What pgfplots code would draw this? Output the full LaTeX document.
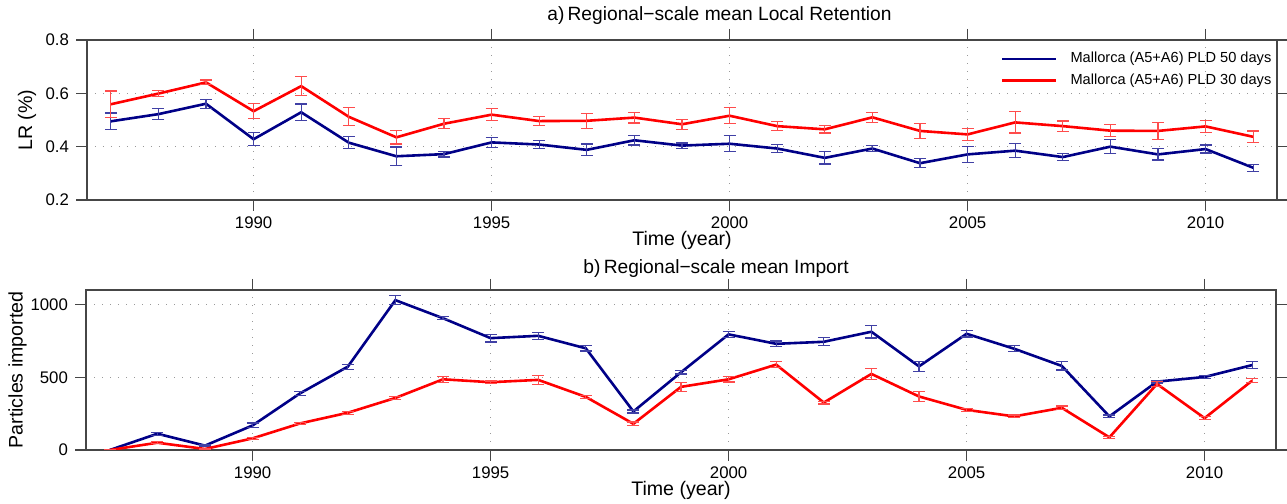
\documentclass[border=0pt]{standalone}
\usepackage{pgfplots}
\pgfplotsset{compat=1.18}
\usepackage{pgfplotstable}
\usepackage{fontspec}
\setmainfont{Liberation Sans}

\definecolor{navy}{RGB}{0,0,135}
\definecolor{pure red}{RGB}{255,0,0}
\definecolor{frame}{RGB}{70,70,70}

% Local retention (fraction), mean and error
\pgfplotstableread{
year  m      e
1987 0.495 0.031
1988 0.522 0.020
1989 0.561 0.017
1990 0.428 0.024
1991 0.529 0.031
1992 0.415 0.022
1993 0.364 0.035
1994 0.372 0.011
1995 0.416 0.018
1996 0.408 0.014
1997 0.388 0.022
1998 0.424 0.018
1999 0.404 0.010
2000 0.411 0.030
2001 0.393 0.016
2002 0.358 0.023
2003 0.393 0.010
2004 0.338 0.017
2005 0.371 0.031
2006 0.385 0.027
2007 0.361 0.013
2008 0.400 0.027
2009 0.371 0.021
2010 0.391 0.015
2011 0.321 0.013
}\lrfifty
\pgfplotstableread{
year  m      e
1987 0.559 0.050
1988 0.599 0.012
1989 0.641 0.009
1990 0.533 0.028
1991 0.627 0.035
1992 0.512 0.034
1993 0.435 0.025
1994 0.486 0.019
1995 0.520 0.022
1996 0.496 0.018
1997 0.497 0.028
1998 0.509 0.020
1999 0.484 0.019
2000 0.516 0.030
2001 0.477 0.017
2002 0.465 0.014
2003 0.510 0.018
2004 0.459 0.027
2005 0.446 0.022
2006 0.491 0.040
2007 0.477 0.019
2008 0.460 0.022
2009 0.459 0.031
2010 0.476 0.022
2011 0.437 0.022
}\lrthirty

% Imported particles, mean and error
\pgfplotstableread{
year  m    e
1987    0   2
1988  112  11
1989   30   5
1990  169  17
1991  390  13
1992  573  17
1993 1030  30
1994  906  10
1995  769  27
1996  785  24
1997  699  19
1998  265  10
1999  534  12
2000  795  21
2001  730  20
2002  744  27
2003  813  43
2004  575  33
2005  799  22
2006  696  21
2007  578  28
2008  231  10
2009  470  10
2010  502  10
2011  584  24
}\imfifty
\pgfplotstableread{
year  m    e
1987    0   2
1988   50   6
1989    7   5
1990   80   6
1991  183   5
1992  256  10
1993  358  10
1994  486  22
1995  466   8
1996  482  29
1997  365  12
1998  180  13
1999  434  30
2000  486  18
2001  587  22
2002  326  10
2003  523  37
2004  368  32
2005  276  10
2006  231  10
2007  290  12
2008   87   8
2009  454  17
2010  219  12
2011  477  14
}\imthirty

\pgfplotsset{
  every axis title shift=0pt,
  panel/.style={
    scale only axis, width=595pt, height=80pt,
    xmin=1986.5, xmax=2011.5,
    xtick={1990,1995,2000,2005,2010},
    tick align=outside, major tick length=5.5pt,
    axis line style={frame, line width=0.6pt},
    every tick/.style={frame, line width=0.6pt},
    xmajorgrids, ymajorgrids,
    major grid style={gray!80, line width=0.5pt, dash pattern=on 0.5pt off 3.5pt},
    tick label style={font=\fontsize{8.4}{10}\selectfont},
    xticklabel style={yshift=0.5pt},
    label style={font=\fontsize{9.8}{11}\selectfont},
    title style={font=\fontsize{9.6}{11}\selectfont},
    /pgf/number format/assume math mode=true,
    /pgf/number format/1000 sep={},
    xlabel={Time (year)},
    xlabel style={at={(axis description cs:0.5,-0.25)}, anchor=center, inner sep=0pt},
    every axis plot/.append style={line width=1.3pt, mark=none},
    error bars/y dir=both, error bars/y explicit,
    error bars/error mark options={mark size=3pt, line width=0.6pt, rotate=90},
  },
}

\begin{document}
\begin{tikzpicture}
\path[use as bounding box] (0,0) rectangle (643.5pt,252pt);

\begin{axis}[panel,
  at={(43.5pt,152pt)}, anchor=south west,
  ymin=0.2, ymax=0.8, ytick={0.2,0.4,0.6,0.8},
  yticklabel style={/pgf/number format/.cd, fixed, fixed zerofill, precision=1},
  ylabel={LR (\%)},
  ylabel style={at={(axis description cs:-0.0504,0.5)}, anchor=center},
  title={a)\,Regional−scale mean Local Retention},
  title style={at={(axis description cs:0.5315,1.15)}, anchor=center},
  legend style={at={(1.004,0.975)}, anchor=north east, draw=none, fill=none,
    font=\fontsize{7.3}{8}\selectfont, row sep=0pt,
    /tikz/every odd column/.append style={column sep=4.5pt}},
  legend cell align=left,
  legend image code/.code={\draw[#1, line width=1.3pt] (0pt,0pt) -- (27pt,0pt);},
]
\addplot[navy, error bars/error bar style={navy!75, line width=0.6pt}]
  table[x=year, y=m, y error=e] {\lrfifty};
\addlegendentry{Mallorca (A5+A6) PLD 50 days}
\addplot[pure red, error bars/error bar style={pure red!70, line width=0.6pt}]
  table[x=year, y=m, y error=e] {\lrthirty};
\addlegendentry{Mallorca (A5+A6) PLD 30 days}
\end{axis}

\begin{axis}[panel,
  at={(43pt,27pt)}, anchor=south west,
  ymin=0, ymax=1100, ytick={0,500,1000},
  ylabel={Particles imported},
  ylabel style={at={(axis description cs:-0.0576,0.5)}, anchor=center},
  xlabel style={at={(axis description cs:0.5,-0.253)}},
  title={b)\,Regional−scale mean Import},
  title style={at={(axis description cs:0.5295,1.137)}, anchor=center},
]
\addplot[navy, error bars/error bar style={navy!75, line width=0.6pt}]
  table[x=year, y=m, y error=e] {\imfifty};
\addplot[pure red, error bars/error bar style={pure red!70, line width=0.6pt}]
  table[x=year, y=m, y error=e] {\imthirty};
\end{axis}
\end{tikzpicture}
\end{document}
